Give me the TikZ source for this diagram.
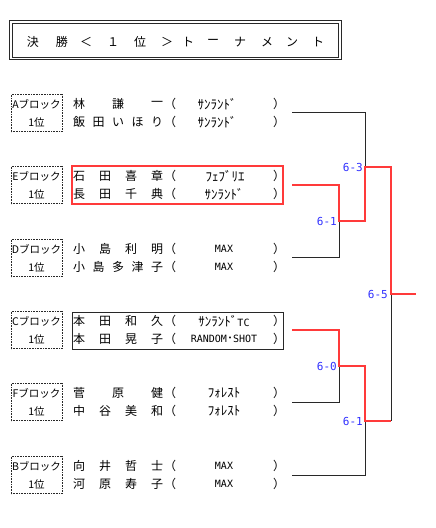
\documentclass[tikz,border=0pt]{standalone}
\usepackage{fontspec}
\setmainfont{Noto Sans CJK JP}
\newfontfamily\monofont{DejaVu Sans Mono}
\usetikzlibrary{calc}

\definecolor{winred}{RGB}{255,58,58}
\definecolor{scoreblue}{RGB}{48,48,255}
\definecolor{linegray}{RGB}{40,40,40}

\tikzset{
  namechar/.style={inner sep=0pt, font=\fontsize{12}{12}\selectfont},
  titlechar/.style={inner sep=0pt, font=\fontsize{12}{12}\selectfont},
  blockbox/.style={draw=linegray, densely dotted, line width=0.6pt, minimum width=51pt,
    minimum height=37pt, inner sep=0pt, align=center, font=\fontsize{10.5}{18}\selectfont},
  score/.style={anchor=east, inner sep=0pt, text=scoreblue, font=\monofont\fontsize{11}{11}\selectfont},
  bracket/.style={draw=linegray, line width=0.8pt},
  winner/.style={draw=winred, line width=2.6pt},
}

\newcommand\hankaku[1]{{\monofont\fontsize{10}{10}\selectfont #1}}
\newcommand\kana[1]{{\fontsize{13}{13}\selectfont #1}}
% one player line: prefix, y, number of characters, characters, x of team, team
\newcommand\teamrow[6]{%
  \foreach \c [count=\i] in {#4}
    \node[namechar] (#1-\i) at ({79+(\i-1)*78/(#3-1)}, #2) {\c};
  \node[namechar] (#1-lp) at (170, #2) {（};
  \node[namechar] (#1-tm) at (#5, #2) {#6};
  \node[namechar] (#1-rp) at (279, #2) {）};
}

\begin{document}
\begin{tikzpicture}[x=1pt, y=-1pt]
		%%%%% START %%%%%
		\useasboundingbox (0,0) rectangle (436,528);
		
		% title
		\draw[linegray, line width=0.6pt] (9.5,20.5) rectangle (341,59.5);
		\draw[linegray, line width=0.6pt] (12,23) rectangle (338.5,57);
		\foreach \c/\x [count=\i] in {決/33, 勝/62, ＜/86, １/113, 位/140, ＞/167,
		    ト/188, ー/213, ナ/240, メ/267, ン/292, ト/318}
		  \node[titlechar] (title-\i) at (\x, 42) {\c};
		
		% blocks
		\node[blockbox] (blkA) at (36.5,113) {Aブロック\\1位};
		\node[blockbox] (blkE) at (36.5,185) {Eブロック\\1位};
		\node[blockbox] (blkD) at (36.5,258) {Dブロック\\1位};
		\node[blockbox] (blkC) at (36.5,330) {Cブロック\\1位};
		\node[blockbox] (blkF) at (36.5,402) {Fブロック\\1位};
		\node[blockbox] (blkB) at (36.5,475) {Bブロック\\1位};
		
		% players
		\teamrow{a1}{104}{3}{林,謙,一}{217}{\kana{ｻﾝﾗﾝﾄﾞ}}
		\teamrow{a2}{122}{5}{飯,田,い,ほ,り}{217}{\kana{ｻﾝﾗﾝﾄﾞ}}
		\teamrow{e1}{176}{4}{石,田,喜,章}{225}{\kana{ﾌｪﾌﾞﾘｴ}}
		\teamrow{e2}{194}{4}{長,田,千,典}{224}{\kana{ｻﾝﾗﾝﾄﾞ}}
		\teamrow{d1}{249}{4}{小,島,利,明}{224}{\hankaku{MAX}}
		\teamrow{d2}{267}{5}{小,島,多,津,子}{224}{\hankaku{MAX}}
		\teamrow{c1}{321}{4}{本,田,和,久}{224}{\kana{ｻﾝﾗﾝﾄﾞ}\hankaku{TC}}
		\teamrow{c2}{339}{4}{本,田,晃,子}{224}{\hankaku{RANDOM}･\hankaku{SHOT}}
		\teamrow{f1}{393}{3}{菅,原,健}{224}{\kana{ﾌｫﾚｽﾄ}}
		\teamrow{f2}{411}{4}{中,谷,美,和}{224}{\kana{ﾌｫﾚｽﾄ}}
		\teamrow{b1}{466}{4}{向,井,哲,士}{224}{\hankaku{MAX}}
		\teamrow{b2}{484}{4}{河,原,寿,子}{224}{\hankaku{MAX}}
		
		\draw[winred, line width=2pt] (72,166) rectangle (283,204);
		\draw[bracket] (72,312) rectangle (283,349);
		
		% bracket
		\coordinate (rA) at (292,112);
		\coordinate (rE) at (292,185);
		\coordinate (rD) at (292,257);
		\coordinate (rC) at (292,330);
		\coordinate (rF) at (292,402);
		\coordinate (rB) at (292,475);
		\coordinate (m1) at (339,221);
		\coordinate (m2) at (339,366);
		\coordinate (s1) at (365,167);
		\coordinate (s2) at (365,421);
		\coordinate (fin) at (391,294);
		\coordinate (champ) at (416,294);
		
		\draw[bracket] (rA) -| (s1);
		\draw[bracket] (rD) -| (m1);
		\draw[bracket] (rF) -| (m2);
		\draw[bracket] (rB) -| (s2);
		\draw[bracket] (fin) -- (fin |- s2);
		
		\draw[winner] (rE) -| (m1) -| (s1) -| (fin) -- (champ);
		\draw[winner] (rC) -| (m2) -| (s2) -- (s2 -| fin);
		
		% scores
		\node[score] (sc-m1) at ([xshift=-2pt]m1) {6-1};
		\node[score] (sc-m2) at ([xshift=-2pt]m2) {6-0};
		\node[score] (sc-s1) at ([xshift=-2pt]s1) {6-3};
		\node[score] (sc-s2) at ([xshift=-2pt]s2) {6-1};
		\node[score] (sc-fin) at ([xshift=-3pt]fin) {6-5};
		
		%%%%% END %%%%%
\end{tikzpicture}
\end{document}
